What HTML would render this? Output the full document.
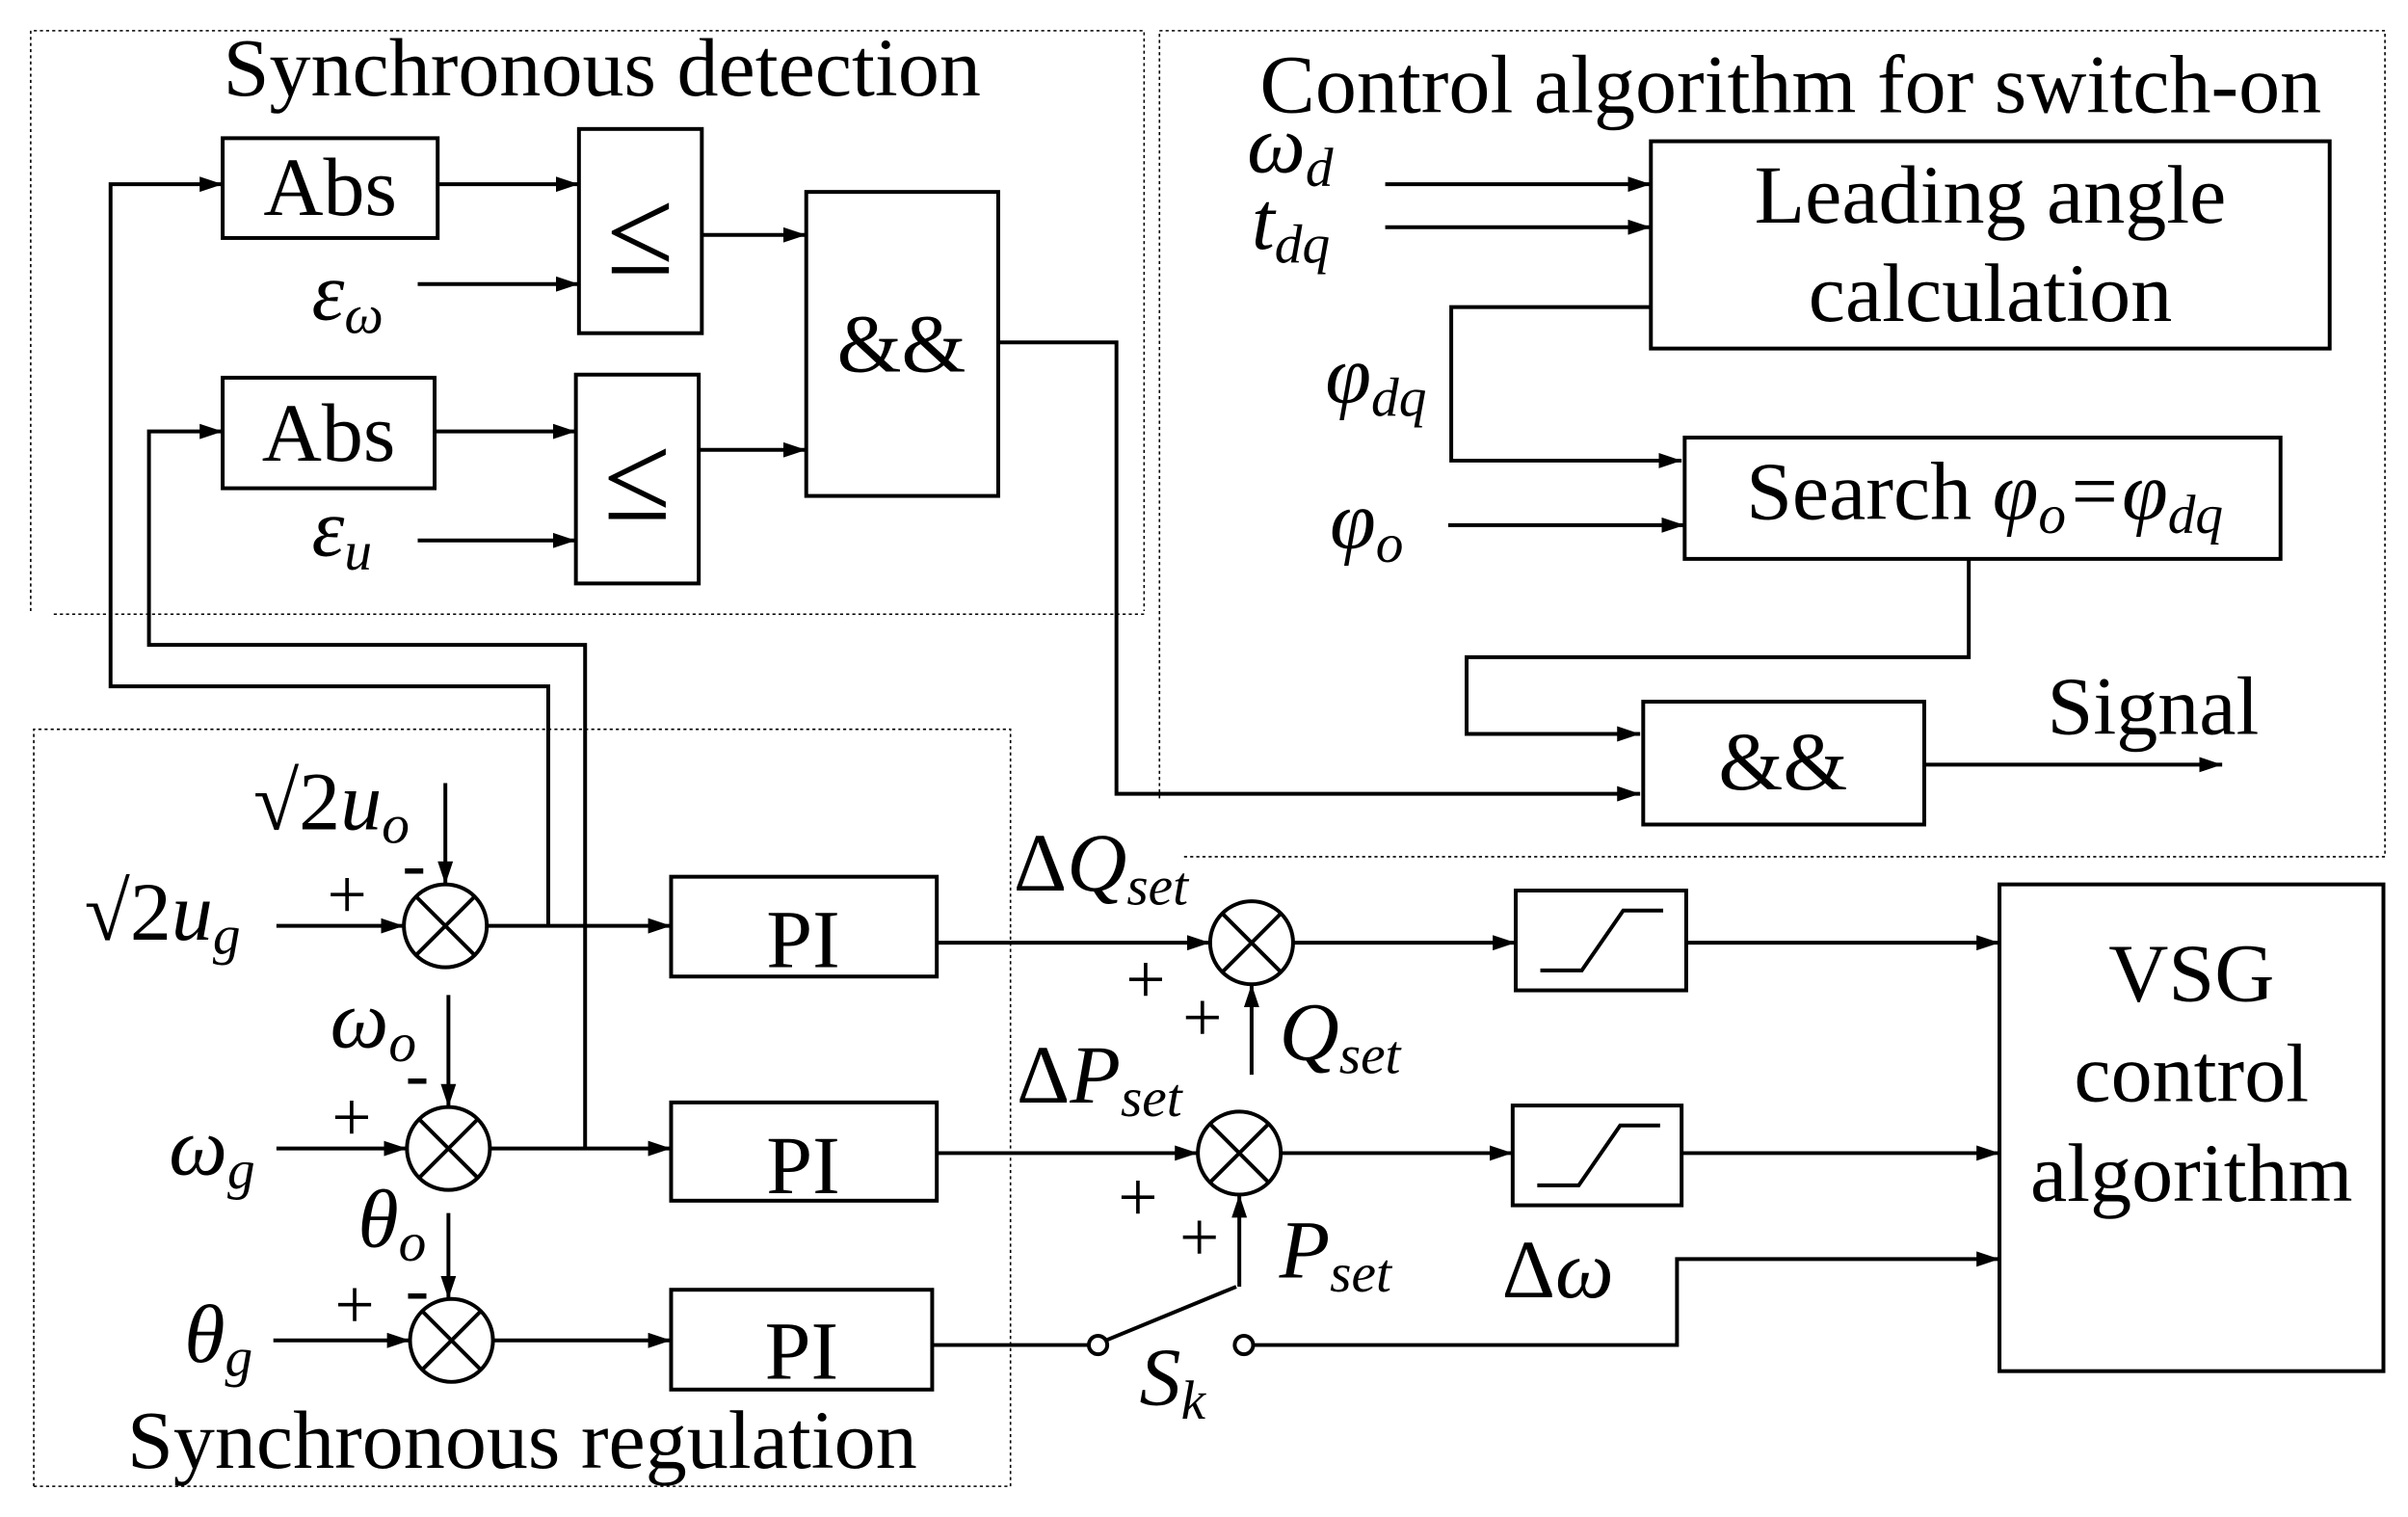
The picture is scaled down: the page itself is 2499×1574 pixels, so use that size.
<!DOCTYPE html>
<html><head><meta charset="utf-8"><style>html,body{margin:0;padding:0;background:#fff}svg{display:block}text{font-family:"Liberation Serif",serif;fill:#000}</style></head><body>
<svg width="2499" height="1574" viewBox="0 0 1568 988" preserveAspectRatio="none" xmlns="http://www.w3.org/2000/svg">
<defs><marker id="a" markerWidth="15" markerHeight="10" refX="15" refY="5" orient="auto" markerUnits="userSpaceOnUse" viewBox="0 0 15 10"><path d="M0,0L15,5L0,10z" fill="#000"/></marker></defs>
<g fill="none" stroke="#000" stroke-width="1" stroke-dasharray="2,2">
<path d="M20,398V20H745V398"/><path d="M35,400H745"/>
<path d="M755,520V20H1553V558H770"/>
<path d="M22,968V475H658V968H22"/>
</g>
<g fill="none" stroke="#000" stroke-width="2.5">
<rect x="145" y="90" width="140" height="65"/><rect x="145" y="246" width="138" height="72"/>
<rect x="377" y="84" width="80" height="133"/><rect x="375" y="244" width="80" height="136"/>
<rect x="525" y="125" width="125" height="198"/>
<rect x="1075" y="92" width="442" height="135"/><rect x="1097" y="285" width="388" height="79"/>
<rect x="1070" y="457" width="183" height="80"/>
<rect x="437" y="571" width="173" height="65"/><rect x="437" y="718" width="173" height="64"/><rect x="437" y="840" width="170" height="65"/>
<rect x="987" y="580" width="111" height="65"/><rect x="985" y="720" width="110" height="65"/>
<rect x="1302" y="576" width="250" height="317"/>
<path d="M1003,632H1030L1057,593H1083"/><path d="M1001,772H1028L1055,733H1081"/>
<circle cx="290" cy="603" r="27"/><path d="M271,584L309,622M309,584L271,622"/>
<circle cx="292" cy="748" r="27"/><path d="M273,729L311,767M311,729L273,767"/>
<circle cx="294" cy="873" r="27"/><path d="M275,854L313,892M313,854L275,892"/>
<circle cx="815" cy="614" r="27"/><path d="M796,595L834,633M834,595L796,633"/>
<circle cx="807" cy="751" r="27"/><path d="M788,732L826,770M826,732L788,770"/>
<circle cx="715" cy="876" r="6"/><circle cx="810" cy="876" r="6"/>
</g>
<g fill="none" stroke="#000" stroke-width="2.5" marker-end="url(#a)">
<path d="M285,120H377"/><path d="M272,185H377"/><path d="M457,153H525"/>
<path d="M283,281H375"/><path d="M272,352H375"/><path d="M455,293H525"/>
<path d="M357,603V447H72V120H145"/><path d="M381,748V420H97V281H145"/>
<path d="M650,223H727V517H1068"/>
<path d="M902,120H1075"/><path d="M902,148H1075"/>
<path d="M1075,200H945V300H1095"/><path d="M943,342H1097"/>
<path d="M1282,364V428H955V478H1068"/><path d="M1253,498H1447"/>
<path d="M290,510V576"/><path d="M180,603H263"/><path d="M317,603H437"/>
<path d="M292,648V721"/><path d="M180,748H265"/><path d="M319,748H437"/>
<path d="M292,790V846"/><path d="M178,873H267"/><path d="M321,873H437"/>
<path d="M610,614H788"/><path d="M815,700V641"/><path d="M842,614H987"/><path d="M1098,614H1302"/>
<path d="M610,751H780"/><path d="M807,838V778"/><path d="M834,751H985"/><path d="M1095,751H1302"/>
<path d="M816,876H1092V820H1302"/>
</g>
<path d="M607,876H709M720,873L805,838" stroke="#000" stroke-width="2.5" fill="none"/>
<g font-size="54">
<text x="392" y="62" text-anchor="middle">Synchronous detection</text>
<text x="1166" y="73" text-anchor="middle">Control algorithm for switch-on</text>
<text x="215" y="140" text-anchor="middle">Abs</text><text x="214" y="300" text-anchor="middle">Abs</text>
<text x="417" y="178" text-anchor="middle" font-size="80">≤</text>
<text x="415" y="338" text-anchor="middle" font-size="80">≤</text>
<text x="587" y="242" text-anchor="middle">&amp;&amp;</text>
<text x="1296" y="145" text-anchor="middle">Leading angle</text>
<text x="1296" y="209" text-anchor="middle">calculation</text>
<text x="1137" y="338">Search <tspan font-style="italic">φ<tspan font-size="36" dy="9">o</tspan><tspan dy="-9">=φ</tspan><tspan font-size="36" dy="9">dq</tspan></tspan></text>
<text x="1161" y="514" text-anchor="middle">&amp;&amp;</text>
<text x="1333" y="478">Signal</text>
<text x="523" y="630" text-anchor="middle">PI</text><text x="523" y="777" text-anchor="middle">PI</text><text x="522" y="898" text-anchor="middle">PI</text>
<text x="1427" y="652" text-anchor="middle">VSG</text><text x="1427" y="717" text-anchor="middle">control</text><text x="1427" y="782" text-anchor="middle">algorithm</text>
<text x="340" y="956" text-anchor="middle">Synchronous regulation</text>
</g>
<g font-size="54" font-style="italic">
<text x="203" y="208">ε<tspan font-size="36" dy="9">ω</tspan></text>
<text x="203" y="362">ε<tspan font-size="36" dy="9">u</tspan></text>
<text x="812" y="112">ω<tspan font-size="36" dy="9">d</tspan></text>
<text x="815" y="162">t<tspan font-size="36" dy="9">dq</tspan></text>
<text x="863" y="262">φ<tspan font-size="36" dy="9">dq</tspan></text>
<text x="866" y="357">φ<tspan font-size="36" dy="9">o</tspan></text>
<text x="165" y="540"><tspan font-style="normal">√2</tspan>u<tspan font-size="36" dy="9">o</tspan></text>
<text x="55" y="612"><tspan font-style="normal">√2</tspan>u<tspan font-size="36" dy="9">g</tspan></text>
<text x="215" y="682">ω<tspan font-size="36" dy="9">o</tspan></text>
<text x="110" y="765">ω<tspan font-size="36" dy="9">g</tspan></text>
<text x="233" y="812">θ<tspan font-size="36" dy="9">o</tspan></text>
<text x="120" y="887">θ<tspan font-size="36" dy="9">g</tspan></text>
<text x="660" y="580"><tspan font-style="normal">Δ</tspan>Q<tspan font-size="36" dy="9">set</tspan></text>
<text x="833" y="690">Q<tspan font-size="36" dy="9">set</tspan></text>
<text x="662" y="718"><tspan font-style="normal">Δ</tspan>P<tspan font-size="36" dy="9">set</tspan></text>
<text x="833" y="832">P<tspan font-size="36" dy="9">set</tspan></text>
<text x="978" y="845"><tspan font-style="normal">Δ</tspan>ω</text>
<text x="742" y="915">S<tspan font-size="36" dy="9">k</tspan></text>
</g>
<g font-size="46">
<text x="213" y="598">+</text><text x="262" y="578">-</text>
<text x="216" y="743">+</text><text x="264" y="715">-</text>
<text x="218" y="865">+</text><text x="264" y="855">-</text>
<text x="733" y="653">+</text><text x="770" y="678">+</text>
<text x="728" y="795">+</text><text x="768" y="821">+</text>
</g>
</svg>
</body></html>
